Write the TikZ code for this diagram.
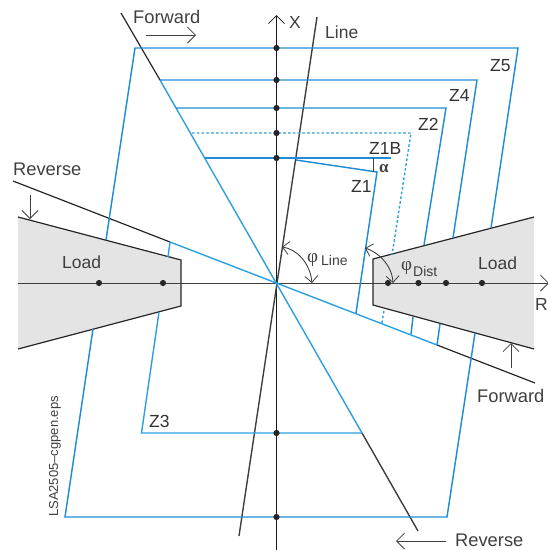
\documentclass[tikz,border=0pt]{standalone}
\usepackage{fontspec}
\setmainfont{Liberation Sans}
\newfontfamily\serifgreek{Liberation Serif}
\usetikzlibrary{arrows.meta}
\definecolor{zblue}{HTML}{1F8DD6}
\definecolor{zlight}{HTML}{2AA0E0}
\definecolor{ink}{HTML}{3F3F3F}
\definecolor{loadgray}{HTML}{E4E4E4}
\tikzset{
  zone/.style={draw=zblue,line width=1.45pt,line join=miter},
  zonelight/.style={draw=zlight,line width=1.4pt},
  zonedash/.style={draw=zlight,line width=1.4pt,dash pattern=on 2.6pt off 2.2pt},
  zoneheavy/.style={draw=zblue,line width=2.1pt},
  blackline/.style={draw=black!85,line width=1.2pt},
  grayline/.style={draw=ink,line width=1.4pt},
  barb/.tip={Straight Barb[length=8pt,width=16pt,line width=0.8pt]},
  smallbarb/.tip={Straight Barb[length=6.5pt,width=13pt,line width=0.8pt]},
  openarrow/.style={draw=ink,line width=0.9pt,-barb},
  arcarrow/.style={draw=ink,line width=0.9pt,smallbarb-smallbarb},
  loadfill/.style={fill=loadgray,draw=none},
  dotmark/.style={circle,fill=black!85,draw=none,minimum size=6.2pt,inner sep=0pt},
  lab/.style={anchor=base west,inner sep=0pt,text=ink,font=\fontsize{17.5}{20}\selectfont},
  dirlab/.style={lab,font=\fontsize{18.3}{20}\selectfont},
  zlab/.style={lab,text=black!80},
  sublab/.style={anchor=base west,inner sep=0pt,text=ink,font=\fontsize{14}{16}\selectfont},
  greeklab/.style={anchor=base west,inner sep=0pt,text=ink,font=\fontsize{19}{20}\serifgreek\selectfont},
}
\begin{document}
\begin{tikzpicture}[x=1pt,y=-1pt]
\useasboundingbox (0,0) rectangle (548,550);
% --- load areas
\coordinate (LLa) at (18,217); \coordinate (LLb) at (181,260);
\coordinate (LLc) at (181,306); \coordinate (LLd) at (18,349);
\coordinate (RLa) at (534,217); \coordinate (RLb) at (373,259);
\coordinate (RLc) at (373,305); \coordinate (RLd) at (534,349);
\path[loadfill] (LLa) -- (LLb) -- (LLc) -- (LLd) -- cycle;
\path[loadfill] (RLa) -- (RLb) -- (RLc) -- (RLd) -- cycle;
\draw[blackline,line join=miter] (LLa) -- (LLb) -- (LLc) -- (LLd);
\draw[blackline,line join=miter] (RLa) -- (RLb) -- (RLc) -- (RLd);
% --- axes
\coordinate (O) at (276,283);
\coordinate (Xb) at (276.5,550); \coordinate (Xt) at (276.5,15);
\coordinate (Rl) at (18,283); \coordinate (Rr) at (549,283);
\draw[draw=black!90,line width=1pt,-barb] (Xb) -- (Xt);
\draw[draw=ink,line width=0.9pt,-barb] (Rl) -- (Rr);
% --- line
\coordinate (La) at (239,536); \coordinate (Lb) at (317,17);
\draw[grayline] (La) -- (Lb);
% --- direction lines
\coordinate (D1a) at (121,13); \coordinate (D1b) at (160,80);
\coordinate (D1c) at (362,433); \coordinate (D1d) at (418,531);
\coordinate (D2a) at (13,181); \coordinate (D2b) at (170,242);
\coordinate (D2c) at (437,345); \coordinate (D2d) at (535,383);
\draw[blackline] (D1a) -- (D1b);
\draw[grayline] (D1c) -- (D1d);
\draw[blackline] (D2a) -- (D2b);
\draw[blackline] (D2c) -- (D2d);
\draw[zonelight] (D1b) -- (D1c);
\draw[zonelight] (D2b) -- (D2c);
% --- Z5
\coordinate (Z5a) at (106,240); \coordinate (Z5b) at (135,48);
\coordinate (Z5c) at (518,48); \coordinate (Z5d) at (491,228);
\coordinate (Z5e) at (93,329); \coordinate (Z5f) at (65,517);
\coordinate (Z5g) at (447,517); \coordinate (Z5h) at (475,333);
\draw[zone] (Z5a) -- (Z5b) -- (Z5c) -- (Z5d);
\draw[zone] (Z5e) -- (Z5f) -- (Z5g) -- (Z5h);
% --- Z4
\coordinate (Z4c) at (477,80); \coordinate (Z4d) at (453,238);
\coordinate (Z4e) at (437,345); \coordinate (Z4f) at (440,324);
\draw[zone] (D1b) -- (Z4c) -- (Z4d);
\draw[zone] (Z4e) -- (Z4f);
% --- Z2
\coordinate (Z2b) at (176,108); \coordinate (Z2c) at (446,108);
\coordinate (Z2d) at (424,245); \coordinate (Z2e) at (411,334);
\coordinate (Z2f) at (413,317);
\draw[zone] (Z2b) -- (Z2c) -- (Z2d);
\draw[zone] (Z2e) -- (Z2f);
% --- Z1B
\coordinate (ZBb) at (192,133); \coordinate (ZBc) at (411,133);
\coordinate (ZBd) at (392,255); \coordinate (ZBe) at (382,323);
\coordinate (ZBf) at (384,310);
\draw[zonedash] (ZBb) -- (ZBc) -- (ZBd);
\draw[zonedash] (ZBe) -- (ZBf);
% --- Z1
\coordinate (Z1a) at (205,158); \coordinate (Z1b) at (391,158);
\coordinate (Z1c) at (296,160); \coordinate (Z1d) at (377,172);
\coordinate (Z1e) at (356,313);
\draw[zoneheavy] (Z1a) -- (Z1b);
\draw[zone] (Z1c) -- (Z1d) -- (Z1e);
\coordinate (Ta) at (373,158); \coordinate (Tb) at (373,172);
\draw[draw=ink,line width=0.8pt] (Ta) -- (Tb);
% --- Z3
\coordinate (Z3a) at (170,242); \coordinate (Z3b) at (168,257);
\coordinate (Z3c) at (159,312); \coordinate (Z3d) at (141.5,433);
\draw[zonelight] (Z3a) -- (Z3b);
\draw[zonelight] (Z3c) -- (Z3d) -- (D1c);
% --- dots
\foreach \n/\y in {xa/48,xb/80,xc/108,xd/133,xe/158,xf/433,xg/517}
  \node[dotmark] (\n) at (276.5,\y) {};
\foreach \n/\x in {ra/99,rb/163,rc/388,rd/418.5,re/446,rf/482}
  \node[dotmark] (\n) at (\x,283) {};
% --- angle arcs
\coordinate (Aa) at (282,247); \coordinate (Ab) at (312,283);
\draw[arcarrow] (Aa) .. controls (296,249) and (310,262) .. (Ab);
\coordinate (Ac) at (365,248); \coordinate (Ad) at (393,283);
\draw[arcarrow] (Ac) .. controls (378,252) and (392,265) .. (Ad);
% --- direction arrows
\coordinate (Fa) at (146,35); \coordinate (Fb) at (196,35);
\draw[openarrow] (Fa) -- (Fb);
\coordinate (Ra) at (30,195); \coordinate (Rb) at (30,219);
\draw[openarrow] (Ra) -- (Rb);
\coordinate (Ga) at (511,368); \coordinate (Gb) at (511,343);
\draw[openarrow] (Ga) -- (Gb);
\coordinate (Sa) at (446,541); \coordinate (Sb) at (396,541);
\draw[openarrow] (Sa) -- (Sb);
% --- labels
\node[dirlab] (tForwardT) at (133,23) {Forward};
\node[dirlab] (tReverseL) at (13,175) {Reverse};
\node[dirlab] (tForwardR) at (477,402) {Forward};
\node[dirlab] (tReverseB) at (455,546) {Reverse};
\node[lab] (tX) at (289,28) {X};
\node[lab] (tR) at (535,310) {R};
\node[lab] (tLine) at (325,38) {Line};
\node[lab] (tLoadL) at (62,268) {Load};
\node[lab] (tLoadR) at (478,269) {Load};
\node[zlab] (tZ5) at (490,71) {Z5};
\node[zlab] (tZ4) at (449,101) {Z4};
\node[zlab] (tZ2) at (418,130) {Z2};
\node[zlab] (tZ1B) at (369,154) {Z1B};
\node[zlab] (tZ1) at (351,192) {Z1};
\node[zlab] (tZ3) at (149,427) {Z3};
\node[anchor=base west,inner sep=0pt,text=ink,font=\fontsize{17}{20}\serifgreek\bfseries\selectfont] (tAlpha) at (379,172) {α};
\node[greeklab] (tPhiL) at (307,262) {φ};
\node[sublab] (tPhiLsub) at (321,265) {Line};
\node[greeklab] (tPhiD) at (401,270) {φ};
\node[sublab] (tPhiDsub) at (413,276) {Dist};
\node[anchor=base west,rotate=90,inner sep=0pt,text=ink,font=\fontsize{13}{15}\selectfont] (tFile) at (58,517) {LSA2505–cgpen.eps};
\end{tikzpicture}
\end{document}
